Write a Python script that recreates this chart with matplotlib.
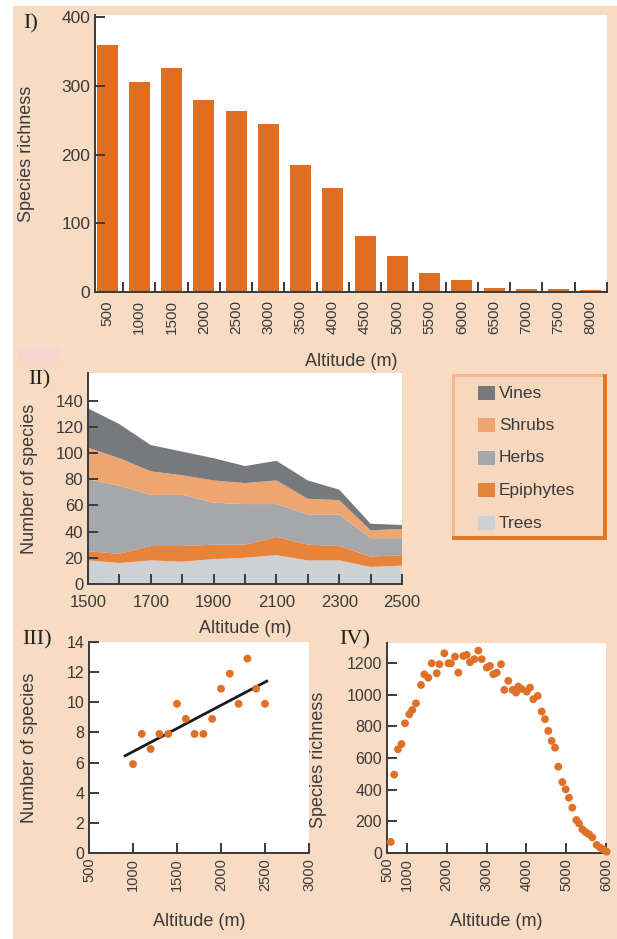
import numpy as np
import matplotlib.pyplot as plt
from matplotlib.patches import Rectangle

plt.rcParams['font.family'] = ['Liberation Sans', 'DejaVu Sans']

W, H = 617, 939
bg = '#F8DBC3'
orange = '#E06E20'
ink = '#3a3a3a'

# I) species richness per altitude band
bands = ['500', '1000', '1500', '2000', '2500', '3000', '3500', '4000',
         '4500', '5000', '5500', '6000', '6500', '7000', '7500', '8000']
band_richness = [360, 305, 326, 280, 263, 245, 185, 151, 82, 53, 27, 17, 6, 5, 5, 3]

# II) species per growth form along the transect
alt_ii = [1500, 1600, 1700, 1800, 1900, 2000, 2100, 2200, 2300, 2400, 2500]
trees = [18, 16, 18, 17, 19, 20, 22, 18, 18, 13, 14]
epiphytes = [7, 7, 11, 12, 11, 10, 14, 12, 11, 8, 8]
herbs = [55, 52, 39, 39, 32, 31, 25, 23, 24, 14, 13]
shrubs = [24, 21, 18, 15, 17, 16, 18, 12, 11, 6, 7]
vines = [30, 26, 20, 18, 17, 13, 15, 14, 8, 5, 3]
forms = ['Trees', 'Epiphytes', 'Herbs', 'Shrubs', 'Vines']
form_colors = ['#CED1D4', '#E8843A', '#A5A7AA', '#EEA56F', '#77797C']

# III) plots along a short gradient
alt_iii = [1000, 1100, 1200, 1300, 1400, 1500, 1600, 1700,
           1800, 1900, 2000, 2100, 2200, 2300, 2400, 2500]
n_iii = [5.9, 7.9, 6.9, 7.9, 7.9, 9.9, 8.9, 7.9,
         7.9, 8.9, 10.9, 11.9, 9.9, 12.9, 10.9, 9.9]
trend_x = [910, 2520]
trend_y = [6.45, 11.4]

# IV) richness along the full gradient
alt_iv = [593, 680, 775, 865, 952, 1060, 1136, 1228, 1354, 1438, 1538, 1622,
          1748, 1815, 1940, 2040, 2107, 2208, 2291, 2417, 2501, 2584, 2693,
          2793, 2878, 3004, 3087, 3170, 3255, 3363, 3446, 3546, 3657, 3740,
          3798, 3883, 4008, 4091, 4174, 4284, 4385, 4468, 4551, 4636, 4719,
          4802, 4903, 4987, 5070, 5154, 5254, 5322, 5405, 5490, 5573, 5656,
          5766, 5849, 5932, 6016]
rich_iv = [70, 495, 655, 688, 819, 876, 903, 945, 1061, 1128, 1107, 1198,
           1135, 1192, 1261, 1198, 1198, 1240, 1139, 1244, 1251, 1205, 1224,
           1278, 1224, 1171, 1181, 1129, 1139, 1192, 1030, 1087, 1030, 1013,
           1051, 1036, 1019, 1044, 971, 992, 893, 845, 771, 708, 665,
           545, 448, 402, 349, 286, 208, 187, 150, 131, 118, 99,
           51, 34, 23, 8]

fig = plt.figure(figsize=(W / 100, H / 100), dpi=100)
fig.patch.set_facecolor('white')
fig.patches.append(Rectangle((13 / W, 0), 1 - 13 / W, 1 - 6 / H,
                             transform=fig.transFigure, facecolor=bg,
                             edgecolor='none', zorder=-10))
fig.patches.append(Rectangle((18 / W, 1 - 361 / H), 42 / W, 13 / H,
                             transform=fig.transFigure, facecolor='#F9D2D2',
                             edgecolor='none', zorder=-9))


def px_axes(l, t, r, b):
    return fig.add_axes([l / W, 1 - b / H, (r - l) / W, (b - t) / H])


def style(ax, size=12):
    ax.set_facecolor('white')
    for s in ['top', 'right']:
        ax.spines[s].set_visible(False)
    for s in ['left', 'bottom']:
        ax.spines[s].set_color(ink)
        ax.spines[s].set_linewidth(1.4)
    ax.tick_params(direction='in', length=7, width=1.4, color=ink,
                   labelcolor=ink, labelsize=size)


def px_text(x, y, s, **kw):
    fig.text(x / W, 1 - y / H, s, **kw)


# panel I
ax1 = px_axes(95, 15, 607, 292)
style(ax1, 12.5)
pos = np.arange(len(bands))
ax1.bar(pos, band_richness, width=0.65, color=orange)
ax1.set_xlim(-0.375, 15.5)
ax1.set_ylim(0, 403)
ax1.set_yticks([0, 100, 200, 300, 400])
ax1.set_xticks(pos + 0.5)
ax1.set_xticklabels([])
ax1.set_xticks(pos, minor=True)
ax1.set_xticklabels(bands, minor=True, rotation=90)
ax1.tick_params(axis='x', which='minor', length=0, labelsize=11,
                labelcolor=ink, pad=6)
ax1.set_xlabel('Altitude (m)', fontsize=13, color=ink)
ax1.xaxis.set_label_coords(0.5, -0.22)
ax1.set_ylabel('Species richness', fontsize=13, color=ink)
ax1.yaxis.set_label_coords(-0.117, 0.5)

# panel II
ax2 = px_axes(88, 373, 402, 584)
style(ax2)
ax2.stackplot(alt_ii, trees, epiphytes, herbs, shrubs, vines,
              colors=form_colors, linewidth=0)
ax2.set_xlim(1500, 2500)
ax2.set_ylim(0, 161)
ax2.set_yticks(range(0, 141, 20))
ax2.set_xticks(alt_ii)
ax2.set_xticklabels([str(a) if (a - 1500) % 200 == 0 else '' for a in alt_ii])
ax2.tick_params(axis='x', pad=8)
ax2.set_xlabel('Altitude (m)', fontsize=13, color=ink)
ax2.xaxis.set_label_coords(0.5, -0.17)
ax2.set_ylabel('Number of species', fontsize=13, color=ink)
ax2.yaxis.set_label_coords(-0.16, 0.5)

# legend box with bevelled border
for (x0, y0, x1, y1, c) in [(452, 374, 607, 540, '#E0782A'),
                             (452, 374, 603, 536, '#F3B98E'),
                             (455, 377, 603, 536, '#F7D8BF')]:
    fig.patches.append(Rectangle((x0 / W, 1 - y1 / H), (x1 - x0) / W,
                                 (y1 - y0) / H, transform=fig.transFigure,
                                 facecolor=c, edgecolor='none'))
legend_y = [523, 490, 458, 425, 393]
for name, col, yc in zip(forms, form_colors, legend_y):
    fig.patches.append(Rectangle((478 / W, 1 - (yc + 7) / H), 17 / W, 14 / H,
                                 transform=fig.transFigure, facecolor=col,
                                 edgecolor='none'))
    px_text(499, yc, name, fontsize=12.5, color=ink, va='center')

# panel III
ax3 = px_axes(89, 642, 309, 853)
style(ax3, 11.5)
ax3.scatter(alt_iii, n_iii, s=32, color='#E07028', edgecolors='none', zorder=3)
ax3.plot(trend_x, trend_y, color='#1a1a1a', lw=2, zorder=2)
ax3.set_xlim(500, 3000)
ax3.set_ylim(0, 14)
ax3.set_yticks(range(0, 15, 2))
ax3.set_xticks(range(500, 3001, 500))
ax3.tick_params(axis='x', labelrotation=90, labelsize=10.5)
ax3.set_xlabel('Altitude (m)', fontsize=13, color=ink)
ax3.xaxis.set_label_coords(0.5, -0.284)
ax3.set_ylabel('Number of species', fontsize=13, color=ink)
ax3.yaxis.set_label_coords(-0.232, 0.5)

# panel IV
ax4 = px_axes(387, 643, 606, 853)
style(ax4, 11.5)
ax4.scatter(alt_iv, rich_iv, s=32, color='#E07028', edgecolors='none',
            clip_on=False, zorder=3)
ax4.set_xlim(500, 6000)
ax4.set_ylim(0, 1326)
ax4.set_yticks(range(0, 1201, 200))
ax4.set_xticks([500, 1000, 2000, 3000, 4000, 5000, 6000])
ax4.tick_params(axis='x', labelrotation=90, labelsize=10.5)
ax4.set_xlabel('Altitude (m)', fontsize=13, color=ink)
ax4.xaxis.set_label_coords(0.5, -0.286)
ax4.set_ylabel('Species richness', fontsize=13, color=ink)
ax4.yaxis.set_label_coords(-0.274, 0.443)

# panel tags
tag = dict(family=['Liberation Serif', 'DejaVu Serif'], fontsize=16,
           color='#222222', va='center', ha='center')
px_text(31, 24, 'I)', **tag)
px_text(39, 380, 'II)', **tag)
px_text(37, 640, 'III)', **tag)
px_text(355, 640, 'IV)', **tag)

fig.savefig('out.png', dpi=100, facecolor=fig.get_facecolor())
